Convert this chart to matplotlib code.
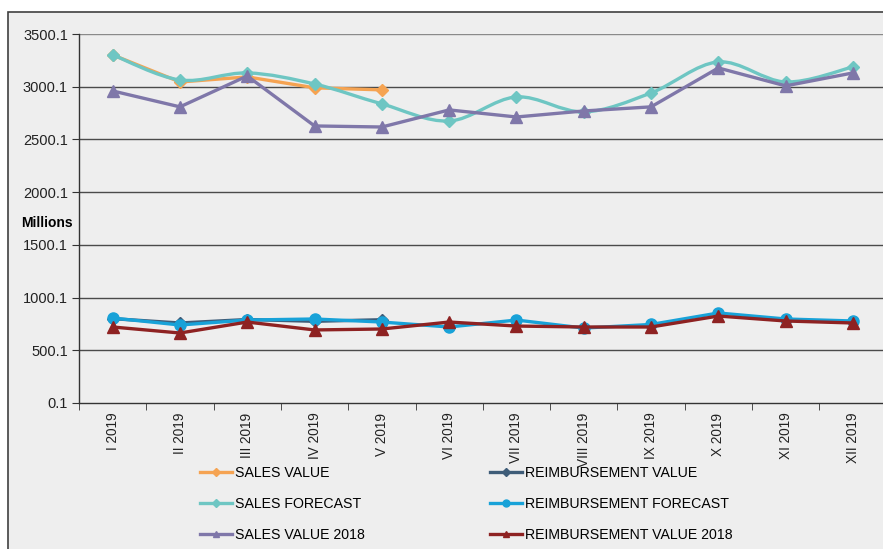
import matplotlib
matplotlib.use("Agg")
import matplotlib.pyplot as plt
import matplotlib.patches as mpatches
from matplotlib.path import Path
from matplotlib.lines import Line2D
import numpy as np

plt.rcParams["font.family"] = ["Liberation Sans", "DejaVu Sans"]

# ── data (millions) ──
months = ["I 2019", "II 2019", "III 2019", "IV 2019", "V 2019", "VI 2019",
          "VII 2019", "VIII 2019", "IX 2019", "X 2019", "XI 2019", "XII 2019"]
sales_value = [3302, 3045, 3093, 2990, 2970]
sales_forecast = [3302, 3064, 3131, 3026, 2837, 2675, 2903, 2761, 2941, 3235, 3045, 3188]
sales_2018 = [2960, 2809, 3102, 2628, 2618, 2780, 2713, 2770, 2809, 3178, 3008, 3131]
reimb_value = [800, 759, 792, 775, 790]
reimb_forecast = [806, 740, 787, 797, 768, 721, 787, 711, 745, 854, 797, 778]
reimb_2018 = [721, 664, 768, 693, 702, 768, 730, 721, 721, 825, 778, 759]
yticks = [0.1, 500.1, 1000.1, 1500.1, 2000.1, 2500.1, 3000.1, 3500.1]

ORANGE = "#F5A352"
TEAL = "#6EC6C3"
PURPLE = "#7F77A9"
SLATE = "#3E5C78"
BLUE = "#18A2D8"
DRED = "#8E2222"
BG = "#EEEEEE"

fig = plt.figure(figsize=(8.83, 5.49), dpi=100, facecolor="white")
# outer chart border
fig.patches.append(mpatches.Rectangle((8 / 883, -0.1), 1.0, 1.1 - 12 / 549,
                                      transform=fig.transFigure, facecolor=BG,
                                      edgecolor="#404040", lw=1.2, zorder=-10))

ax = fig.add_axes([79 / 883, 146 / 549, 807.6 / 883, 369 / 549])
ax.set_facecolor(BG)
x = np.arange(len(months))


def smooth_path(xs, ys):
    # Catmull-Rom style bezier through the data points (Excel "smoothed line")
    pts = np.column_stack([xs, ys]).astype(float)
    verts = [pts[0]]
    codes = [Path.MOVETO]
    n = len(pts)
    for i in range(n - 1):
        p0 = pts[i - 1] if i > 0 else pts[i]
        p1, p2 = pts[i], pts[i + 1]
        p3 = pts[i + 2] if i + 2 < n else pts[i + 1]
        c1 = p1 + (p2 - p0) / 6.0
        c2 = p2 - (p3 - p1) / 6.0
        verts += [c1, c2, p2]
        codes += [Path.CURVE4] * 3
    return Path(verts, codes)


lw = 2.4
ax.plot(x[:len(sales_value)], sales_value, color=ORANGE, lw=lw, marker="D", ms=6, zorder=3)
ax.add_patch(mpatches.PathPatch(smooth_path(x, sales_forecast), facecolor="none",
                                edgecolor=TEAL, lw=lw, zorder=4))
ax.plot(x, sales_forecast, ls="none", color=TEAL, marker="D", ms=6, zorder=4)
ax.plot(x, sales_2018, color=PURPLE, lw=lw, marker="^", ms=8, zorder=5)

ax.plot(x[:len(reimb_value)], reimb_value, color=SLATE, lw=lw, marker="D", ms=6, zorder=3)
ax.plot(x, reimb_forecast, color=BLUE, lw=lw, marker="o", ms=8, zorder=4)
ax.plot(x, reimb_2018, color=DRED, lw=lw, marker="^", ms=8, zorder=5)

ax.set_xlim(-0.5, 11.5)
ax.set_ylim(0.1, 3500.1)
ax.set_yticks(yticks)
ax.set_yticklabels([f"{v:.1f}" for v in yticks], fontsize=10.5, color="#222222")
ax.set_xticks(x)
ax.set_xticklabels(months, rotation=90, fontsize=9.8, color="#222222")
ax.set_xticks(np.arange(-0.5, 12, 1), minor=True)
ax.tick_params(axis="x", which="major", length=0, pad=7)
ax.tick_params(axis="x", which="minor", length=5, color="#333333")
ax.tick_params(axis="y", length=5, color="#333333", pad=3)
for yv in yticks[1:]:
    ax.axhline(yv, color="#8A8A8A" if yv == yticks[-1] else "#4A4A4A", lw=1.0, zorder=1)
for s in ["top", "right"]:
    ax.spines[s].set_visible(False)
for s in ["left", "bottom"]:
    ax.spines[s].set_color("#333333")
    ax.spines[s].set_linewidth(1.0)

fig.text(47 / 883, 1 - 223 / 549, "Millions", ha="center", va="center",
         fontsize=10, fontweight="bold")

# legend: two columns placed separately
leg_kw = dict(frameon=False, fontsize=10.2, loc="upper left", handlelength=2.25,
              handletextpad=0.2, labelspacing=1.2, borderaxespad=0, borderpad=0)
h1 = [Line2D([], [], color=ORANGE, lw=2.4, marker="D", ms=4),
      Line2D([], [], color=TEAL, lw=2.4, marker="D", ms=4),
      Line2D([], [], color=PURPLE, lw=2.4, marker="^", ms=5)]
l1 = ["SALES VALUE", "SALES FORECAST", "SALES VALUE 2018"]
h2 = [Line2D([], [], color=SLATE, lw=2.4, marker="D", ms=4),
      Line2D([], [], color=BLUE, lw=2.4, marker="o", ms=5),
      Line2D([], [], color=DRED, lw=2.4, marker="^", ms=5)]
l2 = ["REIMBURSEMENT VALUE", "REIMBURSEMENT FORECAST", "REIMBURSEMENT VALUE 2018"]
fig.legend(h1, l1, bbox_to_anchor=(200 / 883, 1 - 466 / 549), **leg_kw)
fig.legend(h2, l2, bbox_to_anchor=(490 / 883, 1 - 466 / 549), **leg_kw)

fig.savefig("out.png", dpi=100, facecolor="white")
